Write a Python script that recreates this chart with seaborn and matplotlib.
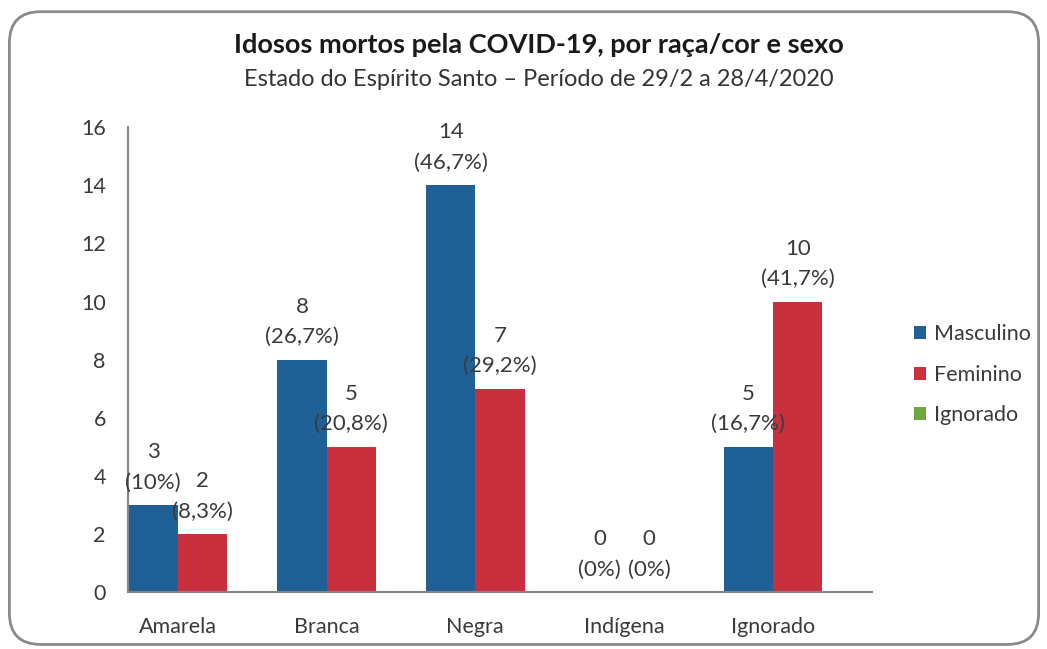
import pandas as pd
import numpy as np
import matplotlib.pyplot as plt
import seaborn as sns
from matplotlib.patches import FancyBboxPatch

# Data
categorias = ['Amarela', 'Branca', 'Negra', 'Indígena', 'Ignorado']
series = ['Masculino', 'Feminino', 'Ignorado']
masculino = [3, 8, 14, 0, 5]
feminino = [2, 5, 7, 0, 10]
ignorado = [0, 0, 0, 0, 0]
pct_masc = ['10%', '26,7%', '46,7%', '0%', '16,7%']
pct_fem = ['8,3%', '20,8%', '29,2%', '0%', '41,7%']
cores = ['#1F6097', '#C9303E', '#6CA83E']

df = pd.DataFrame({
    'raca': categorias * 3,
    'sexo': [s for s in series for _ in categorias],
    'valor': masculino + feminino + ignorado,
})

sns.set_theme(style='white')
plt.rcParams['font.family'] = ['Lato', 'DejaVu Sans']
txt = '#3a3a3a'

fig = plt.figure(figsize=(10.47, 6.49), dpi=100)
ax = fig.add_axes([0.1223, 0.0878, 0.7107, 0.7162])

sns.barplot(data=df, x='raca', y='valor', hue='sexo', hue_order=series,
            palette=cores, width=0.995, linewidth=0, saturation=1, ax=ax)

ax.set_ylim(0, 16)
ax.set_xlim(-0.5, 4.5)
ax.set_yticks(range(0, 17, 2))
ax.set_xticks(np.arange(len(categorias)) - 1 / 6)
ax.set_xticklabels(categorias)
ax.tick_params(axis='both', length=0, labelsize=15.5, colors=txt)
ax.tick_params(axis='y', pad=16)
ax.tick_params(axis='x', pad=18)
ax.set_xlabel('')
ax.set_ylabel('')
for s in ['top', 'right']:
    ax.spines[s].set_visible(False)
for s in ['left', 'bottom']:
    ax.spines[s].set_color('#858585')
    ax.spines[s].set_linewidth(1.5)

# value labels
lab_m = [f'{v}\n({p})' for v, p in zip(masculino, pct_masc)]
lab_f = [f'{v}\n({p})' for v, p in zip(feminino, pct_fem)]
ax.bar_label(ax.containers[0], labels=lab_m, padding=9, fontsize=16,
             color=txt, linespacing=1.65)
ax.bar_label(ax.containers[1], labels=lab_f, padding=9, fontsize=16,
             color=txt, linespacing=1.65)

ax.legend(frameon=False, loc='center left', bbox_to_anchor=(1.03, 0.467),
          fontsize=15.5, handlelength=0.55, handleheight=0.55, handletextpad=0.4,
          labelspacing=0.95, labelcolor=txt)

fig.text(0.515, 0.93, 'Idosos mortos pela COVID-19, por raça/cor e sexo',
         ha='center', va='center', fontsize=19.5, fontweight='bold', color='#1a1a1a')
fig.text(0.515, 0.877, 'Estado do Espírito Santo – Período de 29/2 a 28/4/2020',
         ha='center', va='center', fontsize=17, color='#333333')

border = FancyBboxPatch((0.009, 0.007), 0.983, 0.975,
                        boxstyle='round,pad=0,rounding_size=0.03',
                        transform=fig.transFigure, fill=False,
                        edgecolor='#8a8a8a', linewidth=2, mutation_aspect=1.6)
fig.patches.append(border)

plt.savefig('out.png', dpi=100)
